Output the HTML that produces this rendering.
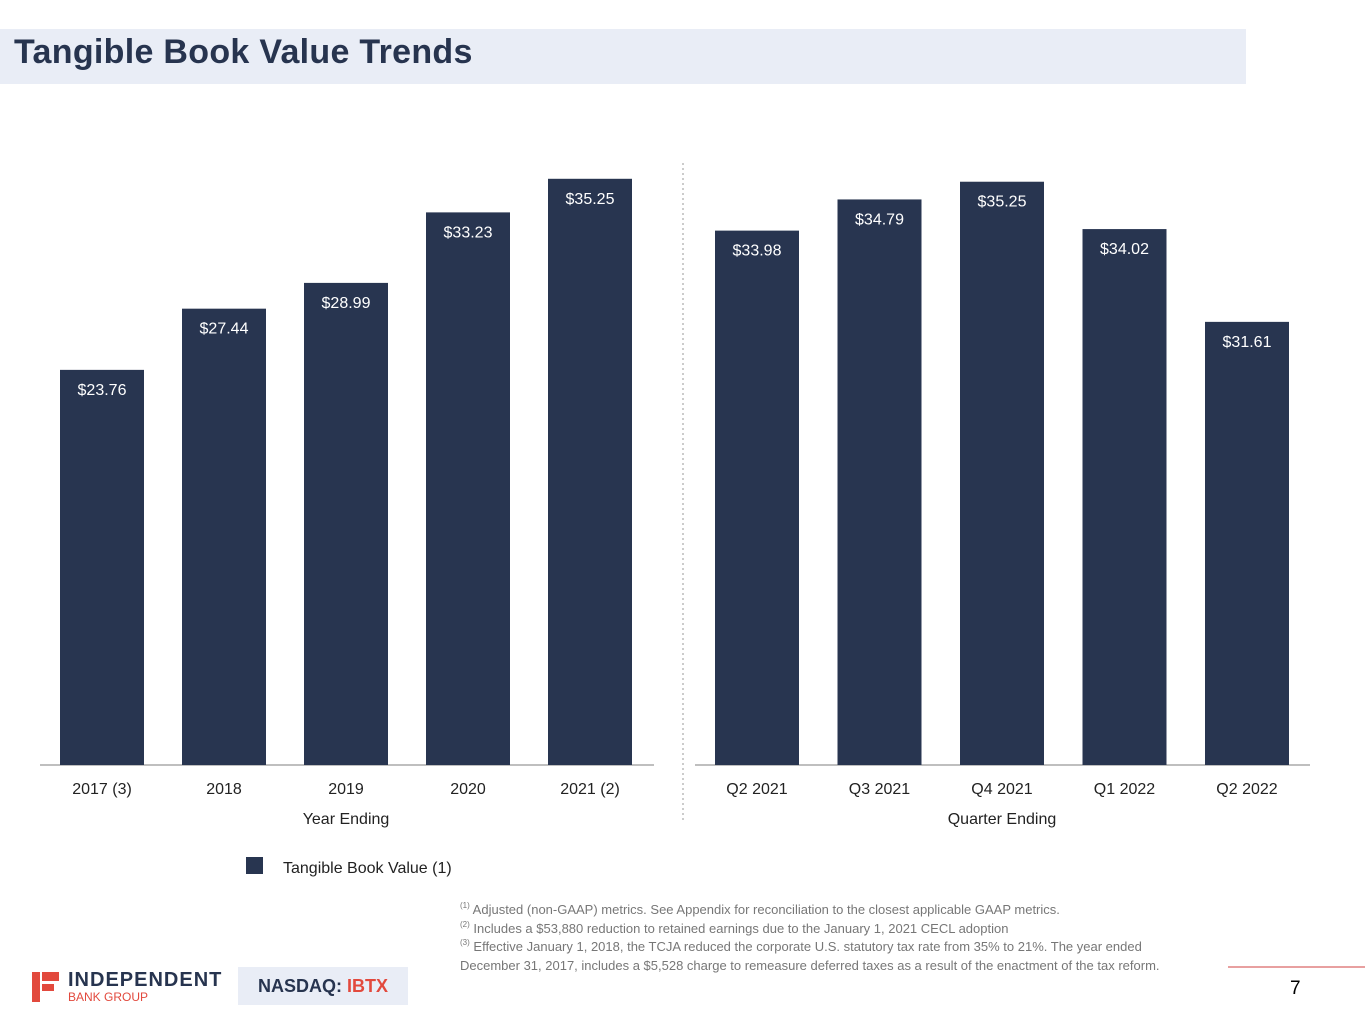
<!DOCTYPE html>
<html><head><meta charset="utf-8"><style>
body{margin:0;width:1365px;height:1024px;background:#fff;position:relative;overflow:hidden;font-family:"Liberation Sans",sans-serif}
.t{position:absolute}
sup{font-size:8px;line-height:0;vertical-align:6px}
</style></head><body>
<div class="t" style="left:0;top:29px;width:1246px;height:55px;background:#e9edf6"></div>
<div class="t" style="left:14px;top:33px;font-size:34px;font-weight:bold;color:#27344f;letter-spacing:0.3px">Tangible Book Value Trends</div>
<svg class="t" style="left:0;top:0" width="1365" height="1024" id="svg"></svg>
<div class="t" style="left:460px;top:901px;font-size:13px;line-height:18.5px;color:#777;font-family:'Liberation Sans Narrow','Liberation Sans',sans-serif">
<sup>(1)</sup> Adjusted (non-GAAP) metrics. See Appendix for reconciliation to the closest applicable GAAP metrics.<br>
<sup>(2)</sup> Includes a $53,880 reduction to retained earnings due to the January 1, 2021 CECL adoption<br>
<sup>(3)</sup> Effective January 1, 2018, the TCJA reduced the corporate U.S. statutory tax rate from 35% to 21%. The year ended<br>
December 31, 2017, includes a $5,528 charge to remeasure deferred taxes as a result of the enactment of the tax reform.</div>
<div class="t" style="left:1228px;top:966px;width:137px;height:2px;background:#e8a0a0"></div>
<div class="t" style="left:32px;top:972px;width:8px;height:30px;background:#e2493d"></div>
<div class="t" style="left:42px;top:972px;width:17px;height:9px;background:#e2493d"></div>
<div class="t" style="left:42px;top:984px;width:12px;height:7px;background:#e2493d"></div>
<div class="t" style="left:68px;top:969px;font-size:20px;font-weight:bold;color:#27344f;letter-spacing:1px">INDEPENDENT</div>
<div class="t" style="left:68px;top:990px;font-size:12px;color:#e2493d">BANK GROUP</div>
<div class="t" style="left:238px;top:967px;width:170px;height:38px;background:#e9edf6;font-size:18px;font-weight:bold;color:#27344f;text-align:center;line-height:38px">NASDAQ: <span style="color:#e2493d">IBTX</span></div>
<div class="t" style="left:1290px;top:978px;font-size:19px;color:#000">7</div>
<script>
const yearCats=["2017 (3)","2018","2019","2020","2021 (2)"];
const yearVals=[23.76,27.44,28.99,33.23,35.25];
const qCats=["Q2 2021","Q3 2021","Q4 2021","Q1 2022","Q2 2022"];
const qVals=[33.98,34.79,35.25,34.02,31.61];
const NS="http://www.w3.org/2000/svg",svg=document.getElementById('svg');
function el(t,a){const e=document.createElementNS(NS,t);for(const k in a)e.setAttribute(k,a[k]);svg.appendChild(e);return e;}
const F='"Liberation Sans",sans-serif';
function chart(cats,vals,x0,step,base,min,scale,axL,axR,title,name){
 const ax=el('line',{x1:axL,x2:axR,y1:base,y2:base,stroke:'#aaa','stroke-width':1.5});
 
 cats.forEach((c,i)=>{
  const cx=x0+i*step,top=base-(vals[i]-min)*scale;
  const r=el('rect',{x:cx-42,y:top,width:84,height:base-top,fill:'#283550'});
  
  const v=el('text',{x:cx,y:top+25,fill:'#fff','font-size':16,'text-anchor':'middle','font-family':F});v.textContent='$'+vals[i].toFixed(2);
  
  const l=el('text',{x:cx,y:base+29,fill:'#222','font-size':16,'text-anchor':'middle','font-family':F});l.textContent=c;
  
 });
 const t=el('text',{x:x0+2*step,y:base+59,fill:'#222','font-size':16,'text-anchor':'middle','font-family':F});t.textContent=title;
 
}
chart(yearCats,yearVals,102,122,765,0,16.63,40,654,'Year Ending','annual');
chart(qCats,qVals,757,122.5,765,20.1,38.5,695,1310,'Quarter Ending','quarterly');
const d=el('line',{x1:683,x2:683,y1:163,y2:820,stroke:'#bbb','stroke-width':1.5,'stroke-dasharray':'2,3'});

const ls=el('rect',{x:246,y:857,width:17,height:17,fill:'#283550'});

const lt=el('text',{x:283,y:873,fill:'#222','font-size':16,'font-family':F});lt.textContent='Tangible Book Value (1)';

</script>
</body></html>
